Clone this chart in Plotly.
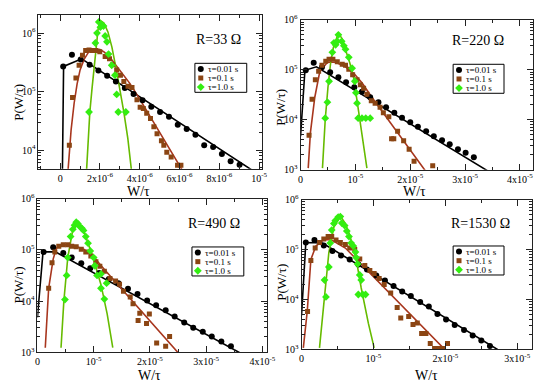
import plotly.graph_objects as go

# ---------------- data (W in units of U, P as log10) ----------------
# R = 33 Ohm  (W unit 1e-6)
R33_U = 1e-6
R33_T001_W = [0.15, 0.59, 1.03, 1.48, 1.92, 2.36, 2.80, 3.25, 3.69, 4.14, 4.58, 5.02, 5.47, 5.91, 6.36, 6.80, 7.24, 7.69, 8.13, 8.57, 9.02]
R33_T001_LOGP = [5.43, 5.63, 5.55, 5.46, 5.36, 5.27, 5.17, 5.06, 4.96, 4.85, 4.74, 4.65, 4.57, 4.43, 4.36, 4.26, 4.08, 4.05, 3.93, 3.81, 3.75]
R33_FIT001_W = [0.09, 0.17, 1.08, 9.90]
R33_FIT001_LOGP = [3.0, 5.43, 5.56, 3.60]
R33_T01_W = [0.46, 0.62, 0.79, 0.95, 1.12, 1.28, 1.45, 1.62, 1.78, 1.99, 2.26, 2.48, 2.64, 2.84, 3.03, 3.20, 3.41, 3.61, 3.86, 4.02, 4.18, 4.35, 4.54, 4.71, 4.87, 5.09, 5.21, 5.36, 5.58, 5.90, 6.07]
R33_T01_LOGP = [4.08, 4.90, 5.23, 5.45, 5.62, 5.70, 5.71, 5.70, 5.70, 5.68, 5.60, 5.56, 5.46, 5.37, 5.28, 5.17, 5.09, 5.07, 4.86, 4.73, 4.71, 4.63, 4.54, 4.40, 4.28, 4.16, 4.08, 3.96, 3.88, 3.74, 3.74]
R33_FIT01_W = [0.36, 0.45, 0.55, 0.70, 0.85, 1.0, 1.2, 1.4, 1.6, 1.8, 2.0, 2.2, 2.4, 2.6, 2.8, 3.0, 3.5, 4.0, 4.5, 5.0, 5.5, 6.2]
R33_FIT01_LOGP = [3.5, 3.95, 4.35, 4.80, 5.13, 5.37, 5.55, 5.66, 5.71, 5.73, 5.72, 5.68, 5.62, 5.54, 5.45, 5.36, 5.14, 4.87, 4.59, 4.30, 4.02, 3.62]
R33_T1_W = [1.45, 1.77, 1.85, 1.94, 2.02, 2.10, 2.18, 2.26, 2.35, 2.43, 2.59, 2.75, 2.84, 2.92, 3.30]
R33_T1_LOGP = [4.65, 5.83, 6.00, 6.19, 6.10, 6.14, 6.12, 5.95, 5.85, 5.64, 5.45, 5.28, 4.95, 4.65, 4.65]
R33_FIT1_W = [1.30, 1.40, 1.49, 1.60, 1.69, 1.80, 1.90, 1.99, 2.2, 2.4, 2.6, 2.84, 3.0, 3.2, 3.4, 3.6]
R33_FIT1_LOGP = [3.50, 4.15, 4.65, 5.05, 5.34, 5.75, 6.05, 6.22, 6.17, 6.02, 5.76, 5.34, 5.05, 4.65, 4.20, 3.60]

# R = 220 Ohm (W unit 1e-5)
R220_U = 1e-5
R220_T001_W = [0.095, 0.24, 0.39, 0.54, 0.69, 0.83, 0.98, 1.12, 1.27, 1.42, 1.56, 1.71, 1.85, 2.00, 2.14, 2.29, 2.43, 2.58, 2.72, 2.87, 3.01, 3.16]
R220_T001_LOGP = [4.99, 5.14, 5.05, 4.95, 4.85, 4.75, 4.65, 4.56, 4.45, 4.35, 4.25, 4.14, 4.04, 3.95, 3.86, 3.77, 3.67, 3.59, 3.51, 3.41, 3.34, 3.25]
R220_FIT001_W = [0.0, 0.08, 0.29, 3.45]
R220_FIT001_LOGP = [3.67, 4.99, 5.06, 2.95]
R220_T01_W = [0.155, 0.21, 0.27, 0.33, 0.39, 0.46, 0.52, 0.59, 0.67, 0.76, 0.82, 0.88, 0.95, 1.03, 1.09, 1.15, 1.21, 1.29, 1.36, 1.45, 1.51, 1.61, 1.66, 1.70, 1.77, 1.88, 1.98, 2.07, 2.41]
R220_T01_LOGP = [3.69, 4.41, 4.80, 4.97, 5.09, 5.17, 5.21, 5.21, 5.16, 5.11, 5.09, 5.01, 4.90, 4.80, 4.70, 4.63, 4.51, 4.38, 4.33, 4.25, 4.14, 4.06, 3.62, 3.62, 3.77, 3.58, 3.41, 3.17, 3.08]
R220_FIT01_W = [0.14, 0.18, 0.26, 0.35, 0.49, 0.64, 0.82, 0.97, 1.12, 1.30, 2.30]
R220_FIT01_LOGP = [3.03, 3.74, 4.45, 4.96, 5.15, 5.15, 5.06, 4.93, 4.74, 4.45, 2.94]
R220_T1_W = [0.45, 0.49, 0.52, 0.58, 0.61, 0.64, 0.67, 0.69, 0.75, 0.79, 0.82, 0.88, 0.94, 0.99, 1.01, 1.03, 1.05, 1.12, 1.19, 1.27]
R220_T1_LOGP = [4.03, 4.35, 4.77, 5.35, 5.54, 5.50, 5.57, 5.70, 5.57, 5.48, 5.41, 5.25, 5.03, 4.77, 4.54, 4.33, 4.03, 4.03, 4.03, 4.03]
R220_FIT1_W = [0.40, 0.45, 0.50, 0.55, 0.60, 0.67, 0.71, 0.76, 0.82, 0.90, 0.97, 1.03, 1.09, 1.15, 1.21]
R220_FIT1_LOGP = [3.03, 4.0, 4.65, 5.15, 5.45, 5.67, 5.70, 5.62, 5.40, 5.13, 4.83, 4.40, 3.93, 3.50, 3.03]

# R = 490 Ohm (W unit 1e-5)
R490_U = 1e-5
R490_T001_W = [0.11, 0.28, 0.46, 0.61, 0.78, 0.94, 1.10, 1.27, 1.44, 1.61, 1.78, 1.95, 2.11, 2.28, 2.44, 2.61, 2.77, 2.94, 3.10, 3.27, 3.44]
R490_T001_LOGP = [4.96, 5.05, 4.94, 4.85, 4.74, 4.64, 4.55, 4.43, 4.35, 4.24, 4.14, 4.01, 3.92, 3.82, 3.70, 3.58, 3.48, 3.40, 3.31, 3.21, 3.12]
R490_FIT001_W = [0.0, 0.10, 0.32, 3.70]
R490_FIT001_LOGP = [3.68, 4.96, 4.96, 2.93]
R490_T01_W = [0.20, 0.26, 0.31, 0.38, 0.46, 0.54, 0.61, 0.69, 0.78, 0.86, 0.95, 1.04, 1.11, 1.19, 1.29, 1.39, 1.46, 1.53, 1.65, 1.70, 1.79, 1.82, 1.94, 1.99, 2.12, 2.28, 2.35]
R490_T01_LOGP = [4.25, 4.75, 4.96, 5.07, 5.10, 5.10, 5.07, 5.06, 5.01, 4.96, 4.88, 4.77, 4.68, 4.58, 4.44, 4.39, 4.33, 4.19, 4.08, 3.95, 3.62, 3.76, 3.56, 3.75, 3.18, 3.12, 3.31]
R490_FIT01_W = [0.14, 0.20, 0.28, 0.34, 0.49, 0.66, 0.83, 1.01, 1.18, 2.60]
R490_FIT01_LOGP = [3.09, 4.25, 4.82, 5.04, 5.10, 5.08, 5.01, 4.85, 4.63, 2.87]
R490_T1_W = [0.49, 0.52, 0.54, 0.59, 0.63, 0.66, 0.69, 0.72, 0.75, 0.79, 0.82, 0.86, 0.90, 0.94, 1.00, 1.02, 1.06, 1.13, 1.13, 1.19, 1.23]
R490_T1_LOGP = [4.03, 4.50, 4.85, 5.26, 5.40, 5.48, 5.54, 5.51, 5.46, 5.42, 5.38, 5.26, 5.13, 4.98, 4.85, 4.69, 4.50, 4.53, 4.25, 4.04, 4.35]
R490_FIT1_W = [0.42, 0.47, 0.54, 0.63, 0.71, 0.83, 0.98, 1.13, 1.24, 1.34]
R490_FIT1_LOGP = [3.09, 4.0, 4.85, 5.40, 5.52, 5.35, 4.88, 4.32, 3.75, 3.09]

# R = 1530 Ohm (W unit 1e-5)
R1530_U = 1e-5
R1530_T001_W = [0.06, 0.18, 0.31, 0.43, 0.55, 0.67, 0.79, 0.91, 1.04, 1.16, 1.28, 1.40, 1.52, 1.65, 1.77, 1.89, 2.01, 2.13, 2.26, 2.38, 2.50, 2.62]
R1530_T001_LOGP = [5.14, 5.19, 5.08, 4.97, 4.88, 4.80, 4.70, 4.60, 4.48, 4.38, 4.27, 4.16, 4.07, 3.95, 3.86, 3.71, 3.60, 3.49, 3.39, 3.28, 3.18, 3.07]
R1530_FIT001_W = [0.0, 0.06, 0.29, 2.85]
R1530_FIT001_LOGP = [3.68, 5.14, 5.13, 2.89]
R1530_T01_W = [0.084, 0.13, 0.19, 0.25, 0.31, 0.37, 0.42, 0.48, 0.54, 0.61, 0.67, 0.74, 0.81, 0.88, 0.95, 1.01, 1.08, 1.15, 1.24, 1.33, 1.38, 1.49, 1.55, 1.61, 1.67, 1.73, 1.79, 1.85, 1.91, 1.97, 2.03]
R1530_T01_LOGP = [3.76, 4.78, 5.03, 5.14, 5.21, 5.26, 5.26, 5.19, 5.14, 5.10, 5.03, 5.00, 4.81, 4.68, 4.58, 4.52, 4.42, 4.30, 4.13, 3.84, 3.63, 3.66, 3.50, 3.53, 3.32, 3.32, 3.12, 3.02, 3.02, 3.02, 3.12]
R1530_FIT01_W = [0.025, 0.08, 0.13, 0.20, 0.31, 0.42, 0.61, 2.10]
R1530_FIT01_LOGP = [3.03, 3.77, 4.80, 5.07, 5.20, 5.19, 5.03, 2.84]
R1530_T1_W = [0.32, 0.34, 0.38, 0.40, 0.42, 0.45, 0.47, 0.51, 0.54, 0.56, 0.60, 0.63, 0.66, 0.69, 0.72, 0.75, 0.76, 0.78, 0.79, 0.81, 0.83, 0.85, 0.89]
R1530_T1_LOGP = [4.39, 4.05, 4.65, 5.13, 5.39, 5.52, 5.58, 5.65, 5.66, 5.53, 5.48, 5.37, 5.26, 5.13, 5.07, 4.95, 4.84, 4.71, 4.10, 4.49, 4.39, 4.10, 4.10]
R1530_FIT1_W = [0.25, 0.32, 0.38, 0.45, 0.54, 0.61, 0.67, 0.76, 0.83, 0.93, 1.01]
R1530_FIT1_LOGP = [3.03, 4.10, 4.94, 5.45, 5.67, 5.52, 5.29, 4.81, 4.23, 3.52, 3.03]

PANEL_LABELS = ["R=33 Ω", "R=220 Ω", "R=490 Ω", "R=1530 Ω"]
SERIES_NAMES = ["τ=0.01 s", "τ=0.1 s", "τ=1.0 s"]

P1_XTICKS = [0, 2e-6, 4e-6, 6e-6, 8e-6, 1e-5]
P1_XTEXT = ["0", "2x10<sup>-6</sup>", "4x10<sup>-6</sup>", "6x10<sup>-6</sup>", "8x10<sup>-6</sup>", "10<sup>-5</sup>"]
P_XTICKS = [0, 1e-5, 2e-5, 3e-5, 4e-5]
P_XTEXT = ["0", "10<sup>-5</sup>", "2x10<sup>-5</sup>", "3x10<sup>-5</sup>", "4x10<sup>-5</sup>"]
YTICKS = [1e3, 1e4, 1e5, 1e6]
YTEXT = ["10<sup>3</sup>", "10<sup>4</sup>", "10<sup>5</sup>", "10<sup>6</sup>"]

# ---------------- style ----------------
W_PX, H_PX = 550, 388
OFF = 8  # page body margin in the viewer
FONT = "Liberation Serif"
C_BLACK = "#000000"
C_BROWN_M = "#8b4513"
C_BROWN_L = "#a8361e"
C_GREEN_M = "#33ee11"
C_GREEN_L = "#66bb00"


def px(x):
    return (x - OFF) / W_PX


def py(y):
    return 1 - (y - OFF) / H_PX


# panel frames in screen pixels: (left, right, top, bottom)
FRAMES = [(36, 265, 8, 167), (304, 542, 13, 168), (35, 269.5, 198, 357), (305, 541, 199, 354)]
XRANGES = [[-1.097e-6, 1.0167e-5], [0, 4.245e-5], [0, 4.078e-5], [0, 3.21e-5]]
YRANGES = [[3.681, 6.309], [3, 6], [3, 6], [3, 6]]

panels = [
    (R33_U, R33_T001_W, R33_T001_LOGP, R33_FIT001_W, R33_FIT001_LOGP, R33_T01_W, R33_T01_LOGP, R33_FIT01_W, R33_FIT01_LOGP, R33_T1_W, R33_T1_LOGP, R33_FIT1_W, R33_FIT1_LOGP),
    (R220_U, R220_T001_W, R220_T001_LOGP, R220_FIT001_W, R220_FIT001_LOGP, R220_T01_W, R220_T01_LOGP, R220_FIT01_W, R220_FIT01_LOGP, R220_T1_W, R220_T1_LOGP, R220_FIT1_W, R220_FIT1_LOGP),
    (R490_U, R490_T001_W, R490_T001_LOGP, R490_FIT001_W, R490_FIT001_LOGP, R490_T01_W, R490_T01_LOGP, R490_FIT01_W, R490_FIT01_LOGP, R490_T1_W, R490_T1_LOGP, R490_FIT1_W, R490_FIT1_LOGP),
    (R1530_U, R1530_T001_W, R1530_T001_LOGP, R1530_FIT001_W, R1530_FIT001_LOGP, R1530_T01_W, R1530_T01_LOGP, R1530_FIT01_W, R1530_FIT01_LOGP, R1530_T1_W, R1530_T1_LOGP, R1530_FIT1_W, R1530_FIT1_LOGP),
]

fig = go.Figure()

for i, p in enumerate(panels):
    u = p[0]
    xa = "x" if i == 0 else f"x{i+1}"
    ya = "y" if i == 0 else f"y{i+1}"
    series = [
        (p[1], p[2], p[3], p[4], C_BLACK, C_BLACK, "circle", 6),
        (p[5], p[6], p[7], p[8], C_BROWN_M, C_BROWN_L, "square", 5),
        (p[9], p[10], p[11], p[12], C_GREEN_M, C_GREEN_L, "diamond", 6),
    ]
    for (mw, mlp, fw, flp, mc, lc, sym, ms) in series:
        fig.add_trace(go.Scatter(
            x=[v * u for v in fw], y=[10 ** v for v in flp], mode="lines",
            line=dict(color=lc, width=1.6), xaxis=xa, yaxis=ya,
            showlegend=False, hoverinfo="skip"))
    for (mw, mlp, fw, flp, mc, lc, sym, ms) in series:
        fig.add_trace(go.Scatter(
            x=[v * u for v in mw], y=[10 ** v for v in mlp], mode="markers",
            marker=dict(color=mc, symbol=sym, size=ms, line=dict(width=0)),
            xaxis=xa, yaxis=ya, showlegend=False, cliponaxis=True))

layout = dict(
    width=W_PX, height=H_PX, margin=dict(l=0, r=0, t=0, b=0),
    paper_bgcolor="white", plot_bgcolor="rgba(0,0,0,0)", showlegend=False,
    font=dict(family=FONT, color="black"),
)


def minor_x(i):
    if i == 0:
        return [k * 1e-6 for k in range(-1, 11) if k % 2 != 0]
    return [k * 5e-6 for k in range(0, 9) if k % 2 == 1]


Y_MINOR = [m * 10 ** d for d in range(3, 7) for m in range(2, 10)]

shapes = []
annotations = []
for i in range(4):
    l, r, t, b = FRAMES[i]
    xkey = "xaxis" if i == 0 else f"xaxis{i+1}"
    ykey = "yaxis" if i == 0 else f"yaxis{i+1}"
    xa = "x" if i == 0 else f"x{i+1}"
    ya = "y" if i == 0 else f"y{i+1}"
    common = dict(showline=True, mirror="allticks", linecolor="#222", linewidth=1,
                  ticks="inside", ticklen=6, tickwidth=1, tickcolor="#222",
                  showgrid=False, zeroline=False,
                  tickfont=dict(family=FONT, size=10, color="black"))
    layout[xkey] = dict(domain=[px(l), px(r)], range=XRANGES[i], anchor=ya,
                        tickmode="array",
                        tickvals=P1_XTICKS if i == 0 else P_XTICKS,
                        ticktext=P1_XTEXT if i == 0 else P_XTEXT,
                        minor=dict(tickmode="array", tickvals=minor_x(i), ticks="inside",
                                   ticklen=3, tickcolor="#222", showgrid=False),
                        **common)
    layout[ykey] = dict(domain=[py(b), min(1, py(t))], range=YRANGES[i], type="log", anchor=xa,
                        tickmode="array", tickvals=YTICKS, ticktext=YTEXT,
                        minor=dict(tickmode="array", tickvals=Y_MINOR, ticks="inside",
                                   ticklen=3, tickcolor="#222", showgrid=False),
                        **common)

# axis titles, panel labels (screen pixels)
XTITLE_POS = [(138, 191), (420, 191), (150, 381), (433, 381)]
YTITLE_POS = [(16, 98), (284, 103), (16, 287), (285, 284)]
RLABEL_POS = [(220, 33), (485, 34), (216, 224), (488, 224)]
LEGEND_BOX = [(196, 249, 58, 88), (460, 512, 59, 89), (193, 246, 248, 278), (460, 512, 247, 277)]
ROW_GAP = 9.4

for i in range(4):
    annotations.append(dict(text="W/τ", x=px(XTITLE_POS[i][0]), y=py(XTITLE_POS[i][1]),
                            xref="paper", yref="paper", showarrow=False,
                            xanchor="center", yanchor="middle", borderpad=0,
                            font=dict(family=FONT, size=14, color="black")))
    annotations.append(dict(text="P(W/τ)", x=px(YTITLE_POS[i][0]), y=py(YTITLE_POS[i][1]),
                            xref="paper", yref="paper", showarrow=False, textangle=-90,
                            xanchor="center", yanchor="middle",
                            font=dict(family=FONT, size=13, color="black")))
    annotations.append(dict(text=PANEL_LABELS[i], x=px(RLABEL_POS[i][0]), y=py(RLABEL_POS[i][1]),
                            xref="paper", yref="paper", showarrow=False,
                            xanchor="center", yanchor="middle",
                            font=dict(family=FONT, size=14, color="black")))
    bl, br, bt, bb = LEGEND_BOX[i]
    shapes.append(dict(type="rect", xref="paper", yref="paper",
                       x0=px(bl), x1=px(br), y0=py(bb), y1=py(bt),
                       line=dict(color="black", width=1), fillcolor="rgba(0,0,0,0)", layer="above"))
    for k, name in enumerate(SERIES_NAMES):
        annotations.append(dict(text=name, x=px(bl + 12), y=py(bt + 5.8 + ROW_GAP * k),
                                xref="paper", yref="paper", xanchor="left", yanchor="middle",
                                showarrow=False, borderpad=0,
                                font=dict(family=FONT, size=9, color="black")))

# legend symbols on a full-figure overlay axis measured in screen pixels
LEG_COLORS = [C_BLACK, C_BROWN_M, C_GREEN_M]
LEG_SYMBOLS = ["circle", "square", "diamond"]
LEG_SIZES = [6, 5, 6]
for k in range(3):
    fig.add_trace(go.Scatter(
        x=[LEGEND_BOX[i][0] + 6 for i in range(4)],
        y=[LEGEND_BOX[i][2] + 5.8 + ROW_GAP * k for i in range(4)],
        mode="markers", xaxis="x5", yaxis="y5", showlegend=False, hoverinfo="skip",
        marker=dict(color=LEG_COLORS[k], symbol=LEG_SYMBOLS[k], size=LEG_SIZES[k], line=dict(width=0))))

layout["xaxis5"] = dict(domain=[0, 1], range=[OFF, W_PX + OFF], visible=False, anchor="y5", fixedrange=True)
layout["yaxis5"] = dict(domain=[0, 1], range=[H_PX + OFF, OFF], visible=False, anchor="x5", fixedrange=True)
layout["shapes"] = shapes
layout["annotations"] = annotations

fig.update_layout(**layout)
fig.write_html("out.html")
